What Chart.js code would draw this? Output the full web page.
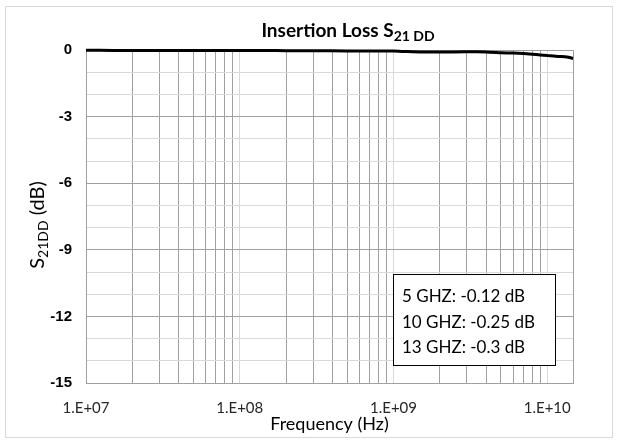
<!DOCTYPE html>
<html>
<head>
<meta charset="utf-8">
<script src="https://cdn.jsdelivr.net/npm/chart.js@4/dist/chart.umd.min.js"></script>
<style>
  html, body { margin: 0; padding: 0; background: #fff; }
  canvas { display: block; }
</style>
</head>
<body>
<canvas id="il-chart" width="619" height="440"></canvas>
<script>
// measured S21DD (dB) against frequency (Hz)
const freqHz = [1e7, 1.5e7, 2e7, 3e7, 5e7, 7e7, 1e8, 1.5e8, 2e8, 3e8, 5e8, 7e8, 1e9, 1.2e9,
    1.5e9, 2e9, 3e9, 4e9, 5e9, 6e9, 7e9, 8e9, 9e9, 1e10, 1.1e10, 1.2e10, 1.3e10, 1.4e10, 1.47e10];
const s21dd = [-0.01, -0.02, -0.02, -0.02, -0.02, -0.02, -0.02, -0.02, -0.03, -0.03, -0.04, -0.05,
    -0.05, -0.07, -0.09, -0.09, -0.08, -0.09, -0.12, -0.14, -0.16, -0.19, -0.22, -0.25, -0.27,
    -0.29, -0.3, -0.34, -0.38];

const xLabelValues = [1e7, 1e8, 1e9, 1e10];
const xTickLabels = ['1.E+07', '1.E+08', '1.E+09', '1.E+10'];
const yLabelValues = [0, -3, -6, -9, -12, -15];
const yTickLabels = ['0', '-3', '-6', '-9', '-12', '-15'];
const noteLines = ['5 GHZ: -0.12 dB', '10 GHZ: -0.25 dB', '13 GHZ: -0.3 dB'];

const X_MIN = 1e7;
const X_MAX = 1.47e10;

// 1..9 per decade, like a log-scale grid
const xGridValues = [];
for (let d = 1e7; d <= X_MAX; d *= 10) {
    for (let m = 1; m <= 9; m++) {
        const v = Math.round(m * d);
        if (v <= X_MAX) xGridValues.push(v);
    }
}

const isDecade = (v) => {
    const e = Math.log10(v);
    return Math.abs(e - Math.round(e)) < 1e-9;
};

const TEXT = "Lato, 'Noto Sans', sans-serif";
const DARK_GRID = '#a0a0a0';
const LIGHT_GRID = '#d9d9d9';

const decorPlugin = {
    id: 'decor',
    beforeDraw(chart) {
        const { ctx } = chart;
        ctx.save();
        ctx.fillStyle = '#fff';
        ctx.fillRect(0, 0, chart.width, chart.height);
        ctx.strokeStyle = LIGHT_GRID;
        ctx.lineWidth = 1;
        ctx.strokeRect(5.5, 6.5, 607, 431);
        ctx.restore();
    },
    beforeDatasetsDraw(chart) {
        const { ctx, chartArea: a } = chart;
        ctx.save();
        ctx.strokeStyle = DARK_GRID;
        ctx.lineWidth = 1;
        ctx.strokeRect(Math.round(a.left) + 0.5, Math.round(a.top) + 0.5,
            Math.round(a.right - a.left), Math.round(a.bottom - a.top));
        ctx.restore();
    },
    afterDraw(chart) {
        const { ctx } = chart;
        ctx.save();

        // title with subscript
        ctx.fillStyle = '#000';
        ctx.textBaseline = 'alphabetic';
        ctx.textAlign = 'left';
        const mainFont = `bold 19px ${TEXT}`;
        const subFont = `bold 14px ${TEXT}`;
        ctx.font = mainFont;
        const w1 = ctx.measureText('Insertion Loss S').width;
        ctx.font = subFont;
        const w2 = ctx.measureText('21 DD').width;
        let tx = 348 - (w1 + w2) / 2;
        ctx.font = mainFont;
        ctx.fillText('Insertion Loss S', tx, 37);
        ctx.font = subFont;
        ctx.fillText('21 DD', tx + w1, 41);

        // y axis title, rotated, with subscript
        ctx.save();
        ctx.translate(44, 225);
        ctx.rotate(-Math.PI / 2);
        ctx.fillStyle = '#000';
        const yMain = `20px ${TEXT}`;
        const ySub = `14px ${TEXT}`;
        ctx.font = yMain;
        const a1 = ctx.measureText('S').width;
        const a3 = ctx.measureText(' (dB)').width;
        ctx.font = ySub;
        const a2 = ctx.measureText('21DD').width;
        let yx = -(a1 + a2 + a3) / 2;
        ctx.font = yMain;
        ctx.fillText('S', yx, 0);
        ctx.font = ySub;
        ctx.fillText('21DD', yx + a1, 4);
        ctx.font = yMain;
        ctx.fillText(' (dB)', yx + a1 + a2, 0);
        ctx.restore();

        // note box
        ctx.fillStyle = '#fff';
        ctx.fillRect(393, 274, 162, 91);
        ctx.strokeStyle = '#000';
        ctx.lineWidth = 1;
        ctx.strokeRect(393.5, 274.5, 162, 91);
        ctx.fillStyle = '#000';
        ctx.font = `17px ${TEXT}`;
        ctx.textBaseline = 'middle';
        noteLines.forEach((t, i) => ctx.fillText(t, 402, 297 + i * 25.5));

        ctx.restore();
    },
};

new Chart(document.getElementById('il-chart'), {
    type: 'line',
    data: {
        datasets: [{
            data: freqHz.map((f, i) => ({ x: f, y: s21dd[i] })),
            borderColor: '#000',
            borderWidth: 3,
            pointRadius: 0,
            tension: 0.2,
            fill: false,
            clip: 4,
        }],
    },
    options: {
        responsive: false,
        animation: false,
        events: [],
        layout: { padding: { top: 50, right: 46, bottom: 0, left: 0 } },
        plugins: {
            legend: { display: false },
            title: { display: false },
            tooltip: { enabled: false },
        },
        scales: {
            x: {
                type: 'logarithmic',
                min: X_MIN,
                max: X_MAX,
                afterBuildTicks: (s) => { s.ticks = xGridValues.map((v) => ({ value: v })); },
                afterFit: (s) => { s.height = 57; },
                grid: {
                    drawTicks: false,
                    color: (c) => (c.tick && isDecade(c.tick.value) ? LIGHT_GRID : DARK_GRID),
                },
                border: { color: DARK_GRID },
                ticks: {
                    autoSkip: false,
                    maxRotation: 0,
                    padding: 16,
                    color: '#262626',
                    font: { family: TEXT, size: 15 },
                    callback: (v) => {
                        const i = xLabelValues.findIndex((x) => Math.abs(x - v) < 1);
                        return i >= 0 ? xTickLabels[i] : '';
                    },
                },
                title: {
                    display: true,
                    text: 'Frequency (Hz)',
                    color: '#000',
                    font: { family: TEXT, size: 18 },
                    padding: { top: 0, bottom: 5 },
                },
            },
            y: {
                min: -15,
                max: 0,
                afterFit: (s) => { s.width = 86; },
                grid: {
                    drawTicks: false,
                    color: (c) => (c.tick && c.tick.value % 3 === 0 ? DARK_GRID : LIGHT_GRID),
                },
                border: { color: DARK_GRID },
                ticks: {
                    stepSize: 1,
                    padding: 14,
                    color: '#000',
                    font: { family: "'Liberation Sans', Arial, sans-serif", size: 15, weight: 'bold' },
                    callback: (v) => {
                        const i = yLabelValues.indexOf(v);
                        return i >= 0 ? yTickLabels[i] : '';
                    },
                },
            },
        },
    },
    plugins: [decorPlugin],
});
</script>
</body>
</html>
